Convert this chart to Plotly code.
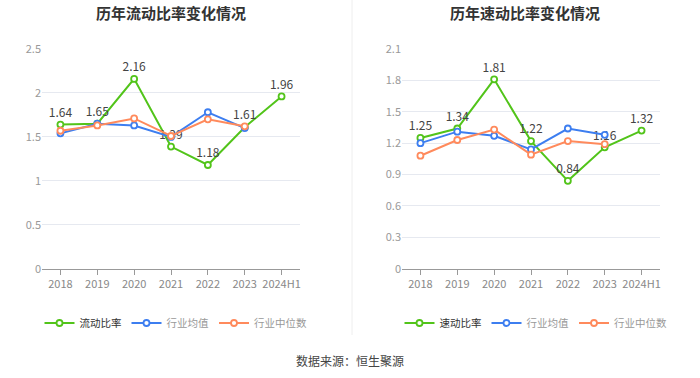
import plotly.graph_objects as go

years = ["2018", "2019", "2020", "2021", "2022", "2023", "2024H1"]
years_ind = ["2018", "2019", "2020", "2021", "2022", "2023"]

current_ratio = [1.64, 1.65, 2.16, 1.39, 1.18, 1.61, 1.96]
current_ind_mean = [1.54, 1.65, 1.63, 1.50, 1.78, 1.60]
current_ind_median = [1.57, 1.63, 1.71, 1.51, 1.70, 1.62]

quick_ratio = [1.25, 1.34, 1.81, 1.22, 0.84, 1.16, 1.32]
quick_ind_mean = [1.20, 1.31, 1.27, 1.14, 1.34, 1.28]
quick_ind_median = [1.08, 1.23, 1.33, 1.09, 1.22, 1.19]

left_ticks = [0, 0.5, 1, 1.5, 2, 2.5]
right_ticks = [0, 0.3, 0.6, 0.9, 1.2, 1.5, 1.8, 2.1]

GREEN = "#52c41a"
BLUE = "#3d7ef0"
ORANGE = "#ff8a5c"
FONT = "Noto Sans CJK SC, Noto Sans, sans-serif"

W, H = 700, 378


def fx(px):
    return px / W


def fy(px):
    return 1 - px / H


fig = go.Figure()


def add_series(x, y, name, color, xaxis, yaxis, legend, labels=False, gray=False):
    fig.add_trace(go.Scatter(
        x=x, y=y, name=(f'<span style="color:#999">{name}</span>' if gray else name),
        mode="lines+markers+text" if labels else "lines+markers",
        text=[f"{v:.2f}" for v in y] if labels else None,
        textposition="top center",
        textfont=dict(size=12, color="#444", family=FONT),
        line=dict(color=color, width=2),
        marker=dict(symbol="circle", size=6, color="white", line=dict(color=color, width=1.8)),
        xaxis=xaxis, yaxis=yaxis, legend=legend, cliponaxis=False,
    ))


add_series(years, current_ratio, "流动比率", GREEN, "x", "y", "legend", labels=True)
add_series(years_ind, current_ind_mean, "行业均值", BLUE, "x", "y", "legend", gray=True)
add_series(years_ind, current_ind_median, "行业中位数", ORANGE, "x", "y", "legend", gray=True)

add_series(years, quick_ratio, "速动比率", GREEN, "x2", "y2", "legend2", labels=True)
add_series(years_ind, quick_ind_mean, "行业均值", BLUE, "x2", "y2", "legend2", gray=True)
add_series(years_ind, quick_ind_median, "行业中位数", ORANGE, "x2", "y2", "legend2", gray=True)

ydom = [fy(268.7), fy(49)]

xcommon = dict(type="category", categoryorder="array", categoryarray=years,
               range=[-0.5, 6.5], showgrid=False, showline=True, linecolor="#999",
               linewidth=1, ticks="outside", ticklen=5, tickcolor="#999", automargin=False,
               tickfont=dict(size=11, color="#888", family=FONT), fixedrange=True)
ycommon = dict(showgrid=True, gridcolor="#e6e9f0", gridwidth=1, zeroline=False,
               showline=False, ticks="", automargin=False,
               tickfont=dict(size=11, color="#999", family=FONT), fixedrange=True)

legcommon = dict(orientation="h", xanchor="center", y=fy(323), yanchor="middle",
                 font=dict(size=10.5, color="#333", family=FONT),
                 tracegroupgap=0, bgcolor="rgba(0,0,0,0)")

fig.update_layout(
    template="none",
    width=W, height=H,
    margin=dict(l=0, r=0, t=0, b=0, pad=0, autoexpand=False),
    paper_bgcolor="white", plot_bgcolor="white",
    font=dict(family=FONT, color="#333"),
    showlegend=True,
    hovermode="closest",
    xaxis=dict(domain=[fx(42), fx(300)], anchor="y", **xcommon),
    yaxis=dict(domain=ydom, anchor="x", range=[0, 2.5], tickvals=left_ticks,
               ticktext=[f"{v:g}" for v in left_ticks], **ycommon),
    xaxis2=dict(domain=[fx(402), fx(660)], anchor="y2", **xcommon),
    yaxis2=dict(domain=ydom, anchor="x2", range=[0, 2.1], tickvals=right_ticks,
                ticktext=[f"{v:g}" for v in right_ticks], **ycommon),
    legend=dict(x=fx(176), **legcommon),
    legend2=dict(x=fx(536), **legcommon),
    annotations=[
        dict(text="<b>历年流动比率变化情况</b>", x=fx(171), y=fy(12), xref="paper",
             yref="paper", xanchor="center", yanchor="middle", showarrow=False,
             font=dict(size=15, color="#333", family=FONT)),
        dict(text="<b>历年速动比率变化情况</b>", x=fx(525), y=fy(12), xref="paper",
             yref="paper", xanchor="center", yanchor="middle", showarrow=False,
             font=dict(size=15, color="#333", family=FONT)),
        dict(text="数据来源：恒生聚源", x=fx(350), y=fy(360), xref="paper", yref="paper",
             xanchor="center", yanchor="middle", showarrow=False,
             font=dict(size=12, color="#444", family=FONT)),
    ],
    shapes=[dict(type="line", xref="paper", yref="paper", x0=fx(352), x1=fx(352),
                 y0=fy(335), y1=fy(0), line=dict(color="#eeeeee", width=1))],
)

fig.write_html("out.html", config={"displayModeBar": False},
               post_script="document.body.style.margin='0px';")
